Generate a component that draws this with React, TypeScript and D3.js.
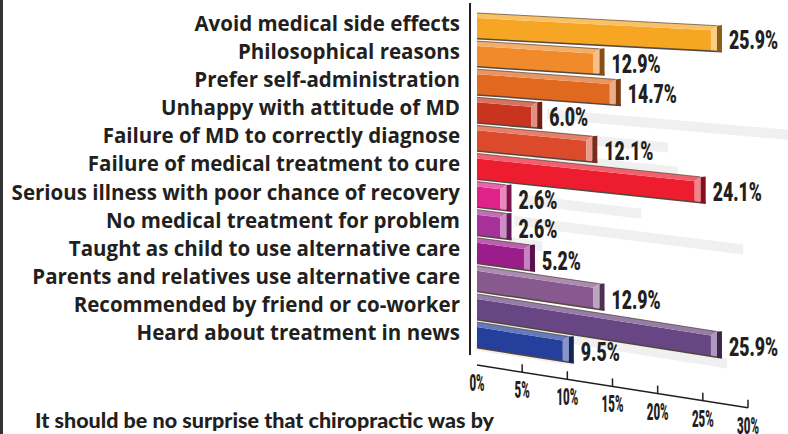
import * as d3 from 'd3';

const categories = [
  'Avoid medical side effects',
  'Philosophical reasons',
  'Prefer self-administration',
  'Unhappy with attitude of MD',
  'Failure of MD to correctly diagnose',
  'Failure of medical treatment to cure',
  'Serious illness with poor chance of recovery',
  'No medical treatment for problem',
  'Taught as child to use alternative care',
  'Parents and relatives use alternative care',
  'Recommended by friend or co-worker',
  'Heard about treatment in news',
];
const values = [25.9, 12.9, 14.7, 6.0, 12.1, 24.1, 2.6, 2.6, 5.2, 12.9, 25.9, 9.5];
const barColors = [
  '#f6a622', '#f18a2b', '#e0681f', '#c8341d', '#dc4a2c', '#ed1c2e',
  '#e0218a', '#a8309a', '#9b1c8b', '#87598e', '#684583', '#243f9c',
];
const tickValues = [0, 5, 10, 15, 20, 25, 30];
const caption = 'It should be no surprise that chiropractic was by';

const W = 788;
const H = 434;
const X0 = 477;

const x = d3.scaleLinear().domain([0, 30]).range([X0, 748]);
const row = d3.scaleBand().domain(categories).range([13, 347]).paddingInner(0.11);

// perspective: rows further down lean more
const slope = (t: number) => Math.min(0.158, 0.048 + 0.00037 * t);
const pt = (t: number, px: number, dy: number): [number, number] => [px, t + dy + slope(t) * (px - X0)];
const poly = (ps: [number, number][]) => ps.map(p => p.join(',')).join(' ');

const heavy = "Roboto, 'DejaVu Sans', sans-serif";
const labelFont = "'Open Sans', Lato, sans-serif";

export default function App() {
  const h = row.bandwidth();
  const topH = 5;
  const capW = 6;
  const sideW = 5;
  const axisT = 365;

  return (
    <svg width={W} height={H} style={{ display: 'block', position: 'absolute', left: 0, top: 0 }}>
      <rect width={W} height={H} fill="#fff" />
      <rect x={0} y={0} width={3} height={H} fill="#333" />

      {/* floor shadows, falling closer to the bar lower down */}
      <g fill="#f0f0f0">
        {categories.map((c, i) => {
          const off = 90 - 6.5 * i;
          const t = row(c)! + off;
          const a = X0 + off - 20;
          const b = x(values[i]) + off - 20 + capW + sideW;
          return <polygon key={c} points={poly([pt(t, a, 0), pt(t, b, 0), pt(t, b, 10), pt(t, a, 10)])} />;
        })}
      </g>

      {/* category labels */}
      <g fontFamily={labelFont} fontWeight={700} fontSize={20.5} fill="#231f20" textAnchor="end">
        {categories.map(c => (
          <text key={c} x={460} y={row(c)! + 18}>{c}</text>
        ))}
      </g>

      <line x1={470} x2={470} y1={3} y2={355} stroke="#231f20" strokeWidth={2} />

      {/* bars */}
      {categories.map((c, i) => {
        const t = row(c)!;
        const x1 = x(values[i]);
        const base = d3.color(barColors[i])!;
        const light = d3.interpolateRgb(barColors[i], '#ffffff')(0.3);
        const capLight = d3.interpolateRgb(barColors[i], '#ffffff')(0.45);
        const dark = base.darker(1.6).formatHex();
        const end = x1 + capW + sideW;
        const lbl = pt(t, end + 7, 0);
        return (
          <g key={c}>
            <polygon points={poly([pt(t, X0, h - 1), pt(t, end, h - 1), pt(t, end, h + 1.5), pt(t, X0, h + 1.5)])} fill="#2a1a10" opacity={0.8} />
            <polygon points={poly([pt(t, X0, topH), pt(t, x1, topH), pt(t, x1, h), pt(t, X0, h)])} fill={barColors[i]} />
            <polygon points={poly([pt(t, X0, 0), pt(t, x1 + capW, 0), pt(t, x1, topH), pt(t, X0, topH)])} fill={light} />
            <polyline points={poly([pt(t, X0, 0), pt(t, x1 + capW, 0)])} fill="none" stroke="#3a2a1a" strokeOpacity={0.6} strokeWidth={1} />
            <polygon points={poly([pt(t, x1, topH), pt(t, x1 + capW, 0), pt(t, x1 + capW, h), pt(t, x1, h)])} fill={capLight} />
            <polygon points={poly([pt(t, x1 + capW, 0), pt(t, end, -1), pt(t, end, h + 1), pt(t, x1 + capW, h + 1)])} fill={dark} />
            <text transform={`translate(${lbl[0]},${lbl[1] + 23}) scale(0.68,1)`} fontFamily={heavy} fontWeight={900} fontSize={26} fill="#231f20">
              {`${values[i].toFixed(1)}%`}
            </text>
          </g>
        );
      })}

      {/* axis */}
      <g stroke="#231f20" strokeWidth={1.5}>
        <line x1={x(0)} y1={pt(axisT, x(0), 0)[1]} x2={x(30)} y2={pt(axisT, x(30), 0)[1]} />
        {tickValues.filter(v => v > 0).map(v => {
          const p = pt(axisT, x(v), 0);
          return <line key={v} x1={p[0]} x2={p[0]} y1={p[1]} y2={p[1] - 8} />;
        })}
      </g>
      <g fontFamily={heavy} fontWeight={900} fontSize={23} fill="#231f20" textAnchor="middle">
        {tickValues.map(v => {
          const p = pt(axisT, x(v), 0);
          return (
            <text key={v} transform={`translate(${p[0]},${p[1] + 26}) scale(0.5,1)`}>{`${v}%`}</text>
          );
        })}
      </g>

      <text x={35} y={428} fontFamily="Lato, 'Open Sans', sans-serif" fontWeight={900} fontSize={21.5} fill="#231f20">
        {caption}
      </text>
    </svg>
  );
}
